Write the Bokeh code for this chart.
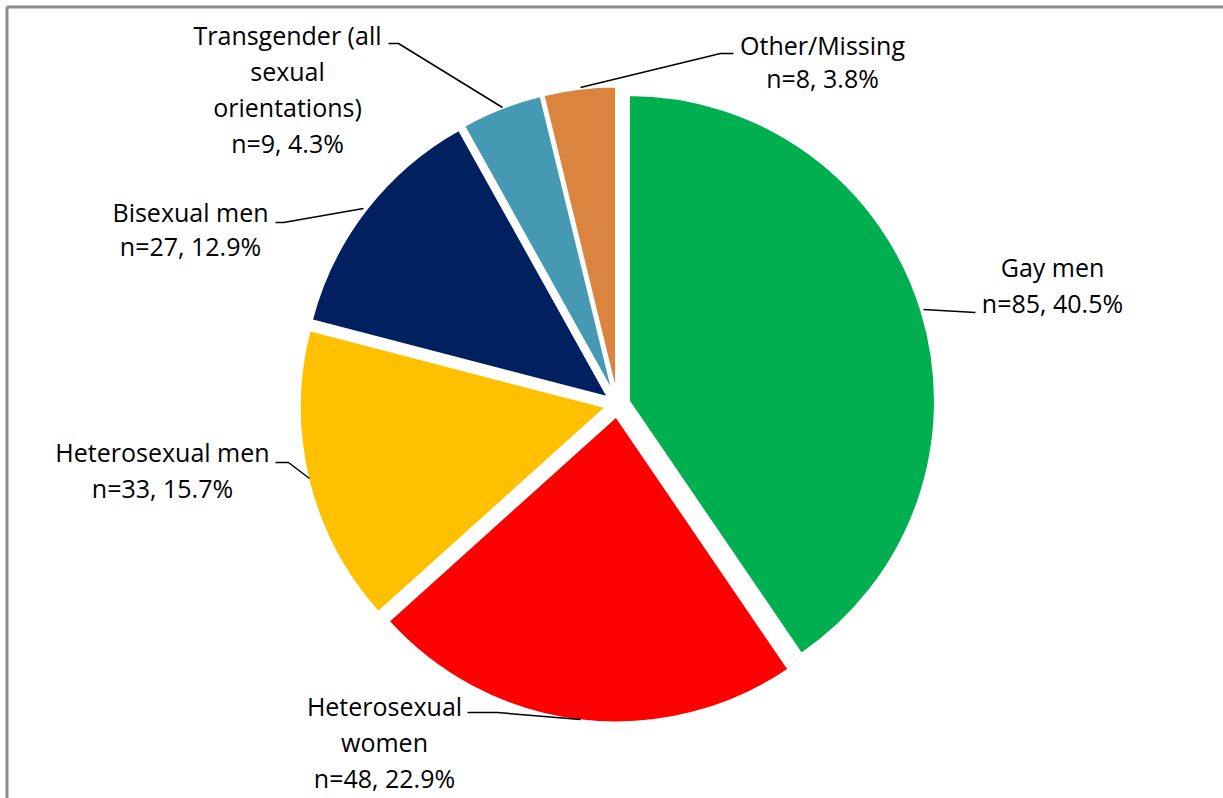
import math
from bokeh.plotting import figure
from bokeh.models import Range1d
from bokeh.core.properties import value
from bokeh.embed import file_html
from bokeh.resources import INLINE

# ---- data ----
categories = ["Gay men", "Heterosexual women", "Heterosexual men",
              "Bisexual men", "Transgender (all sexual orientations)", "Other/Missing"]
counts = [85, 48, 33, 27, 9, 8]
colors = ["#00B050", "#FF0000", "#FFC000", "#002060", "#4599B2", "#DB8440"]
label_lines = [
    ["Gay men", "n=85, 40.5%"],
    ["Heterosexual", "women", "n=48, 22.9%"],
    ["Heterosexual men", "n=33, 15.7%"],
    ["Bisexual men", "n=27, 12.9%"],
    ["Transgender (all", "sexual", "orientations)", "n=9, 4.3%"],
    ["Other/Missing", "n=8, 3.8%"],
]

# ---- layout (page pixel coordinates) ----
W, H = 1223, 798
def dx(px): return px
def dy(py): return H - py

CX, CY = 617, 404
R = 306
EXPLODE = 12
FONT = "Open Sans"
FS = "25px"
TEXT_SHIFT = -11  # compensate renderer baseline offset

label_anchor = [  # center x, first baseline y (page px)
    (1052, 277), (384, 716), (162, 462), (190, 222), (287, 45), (822, 55)]
line_h = [36, 36, 36, 34, 36, 33]
leaders = [
    [(923, 309), (975, 312)],
    [(467, 712), (497, 712), (580, 719)],
    [(275, 462), (288, 462), (309, 478)],
    [(275, 222), (283, 222), (363, 208)],
    [(388, 43), (398, 43), (502, 107)],
    [(733, 53), (720, 53), (580, 87)],
]

p = figure(width=W, height=H, output_backend="svg", toolbar_location=None,
           x_range=Range1d(0, W), y_range=Range1d(0, H),
           x_axis_location=None, y_axis_location=None, min_border=0,
           outline_line_color=None)
p.grid.visible = False
p.background_fill_color = "white"
p.border_fill_color = "white"

total = sum(counts)
cum = 0.0
for cnt, col in zip(counts, colors):
    a1 = cum / total * 360.0
    cum += cnt
    a2 = cum / total * 360.0
    mid = math.radians((a1 + a2) / 2)
    cx = CX + EXPLODE * math.sin(mid)
    cy = CY - EXPLODE * math.cos(mid)
    p.wedge(x=[dx(cx)], y=[dy(cy)], radius=R, radius_units="screen",
            start_angle=math.radians(90 - a2), end_angle=math.radians(90 - a1),
            fill_color=col, line_color="white", line_width=2)

for lines, (ax, ay), lh in zip(label_lines, label_anchor, line_h):
    xs = [dx(ax)] * len(lines)
    ys = [dy(ay + TEXT_SHIFT + i * lh) for i in range(len(lines))]
    p.text(x=xs, y=ys, text=lines, text_font=value(FONT), text_font_size=FS,
           text_align="center", text_baseline="alphabetic", text_color="#000000")

for pts in leaders:
    p.line([dx(x) for x, y in pts], [dy(y) for x, y in pts], line_color="black", line_width=1.5)

# chart border (top and left visible)
p.line([dx(6.5), dx(1240)], [dy(6.5), dy(6.5)], line_color="#8C8C8C", line_width=3)
p.line([dx(6.5), dx(6.5)], [dy(6.5), dy(820)], line_color="#8C8C8C", line_width=3)

open("out.html", "w").write(file_html(p, INLINE))
